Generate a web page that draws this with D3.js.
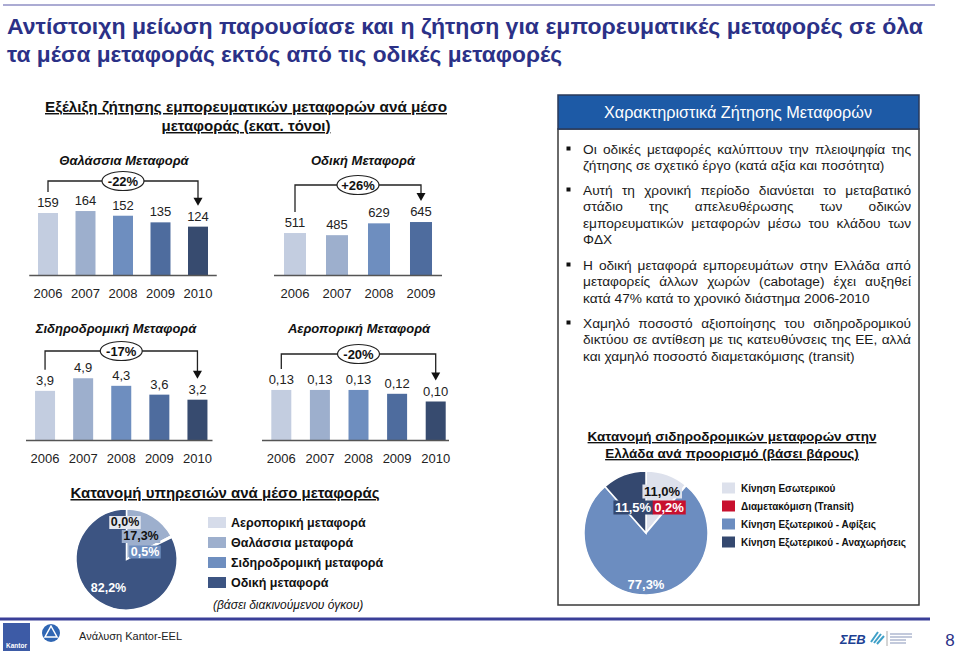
<!DOCTYPE html>
<html><head><meta charset="utf-8">
<script src="https://cdn.jsdelivr.net/npm/d3@7"></script>
<style>
html,body{margin:0;padding:0;background:#fff;}
svg{display:block;font-family:"Liberation Sans",Arial,sans-serif;}
</style></head>
<body><svg id="c" width="959" height="654"></svg>
<script>
// ---------- DATA ----------
const years5 = ["2006","2007","2008","2009","2010"];
const years4 = ["2006","2007","2008","2009"];
const seaValues = [159,164,152,135,124];
const roadValues = [511,485,629,645];
const railValues = [3.9,4.9,4.3,3.6,3.2];
const airValues = [0.13,0.13,0.13,0.12,0.10];
const seaChange = "-22%", roadChange = "+26%", railChange = "-17%", airChange = "-20%";
const barColors = ["#c3cde0","#9dafcd","#6e8ebf","#4e6c9e","#374b6f"];

const serviceLabels = ["Αεροπορική μεταφορά","Θαλάσσια μεταφορά","Σιδηροδρομική μεταφορά","Οδική μεταφορά"];
const serviceShares = [0.0,17.3,0.5,82.2];
const serviceColors = ["#d6dcea","#9dafcd","#6e8ebf","#3c5482"];

const railDestLabels = ["Κίνηση Εσωτερικού","Διαμετακόμιση (Transit)","Κίνηση Εξωτερικού - Αφίξεις","Κίνηση Εξωτερικού - Αναχωρήσεις"];
const railDestShares = [11.0,0.2,77.3,11.5];
const railDestColors = ["#dde1ec","#c8102e","#6c8dc0","#34486f"];

const bullets = [
 ["Οι οδικές μεταφορές καλύπτουν την πλειοψηφία της","ζήτησης σε σχετικό έργο (κατά αξία και ποσότητα)"],
 ["Αυτή τη χρονική περίοδο διανύεται το μεταβατικό","στάδιο της απελευθέρωσης των οδικών","εμπορευματικών μεταφορών μέσω του κλάδου των","ΦΔΧ"],
 ["Η οδική μεταφορά εμπορευμάτων στην Ελλάδα από","μεταφορείς άλλων χωρών (cabotage) έχει αυξηθεί","κατά 47% κατά το χρονικό διάστημα 2006-2010"],
 ["Χαμηλό ποσοστό αξιοποίησης του σιδηροδρομικού","δικτύου σε αντίθεση με τις κατευθύνσεις της ΕΕ, αλλά","και χαμηλό ποσοστό διαμετακόμισης (transit)"]
];

// ---------- DRAW ----------
const svg = d3.select("#c");
const fmt = (v, d) => v.toFixed(d).replace(".", ",");

// top rule & title
svg.append("line").attr("x1",3).attr("x2",935).attr("y1",5).attr("y2",5).attr("stroke","#8f8fc4").attr("stroke-width",1.5);
const titleLines = ["Αντίστοιχη μείωση παρουσίασε και η ζήτηση για εμπορευματικές μεταφορές σε όλα","τα μέσα μεταφοράς εκτός από τις οδικές μεταφορές"];
const titleLens = [916, 555];
titleLines.forEach((t,i)=>{
  svg.append("text").attr("x",7).attr("y",34+28*i).text(t)
    .attr("font-family","'Liberation Sans Narrow','Arial Narrow','Liberation Sans',sans-serif")
    .attr("font-weight","bold").attr("font-size",21.5).attr("fill","#2b3187")
    .attr("textLength",titleLens[i]).attr("lengthAdjust","spacingAndGlyphs");
});

// subtitle
const subLens = [402, 169];
["Εξέλιξη ζήτησης εμπορευματικών μεταφορών ανά μέσο","μεταφοράς (εκατ. τόνοι)"].forEach((t,i)=>{
  svg.append("text").attr("x",246).attr("y",112+19*i).attr("text-anchor","middle")
   .attr("font-weight","bold").attr("font-size",14.5).attr("fill","#111")
   .attr("textLength",subLens[i]).attr("lengthAdjust","spacingAndGlyphs")
   .style("text-decoration","underline").text(t);
});

function barChart(cfg){
  const g = svg.append("g");
  const x = d3.scaleBand().domain(cfg.cats).range(cfg.xr).paddingInner(cfg.pi).paddingOuter(cfg.pi/2);
  const y = d3.scaleLinear().domain(cfg.dom).range([cfg.base, cfg.base - cfg.h]);
  g.append("text").attr("x",cfg.tx).attr("y",cfg.ty).attr("text-anchor","middle")
    .attr("font-weight","bold").attr("font-style","italic").attr("font-size",13).attr("fill","#111").text(cfg.title);
  g.selectAll("rect.b").data(cfg.vals).join("rect").attr("class","b")
    .attr("x",(d,i)=>x(cfg.cats[i])).attr("width",x.bandwidth())
    .attr("y",d=>y(d)).attr("height",d=>cfg.base-y(d))
    .attr("fill",(d,i)=>barColors[i]);
  g.append("line").attr("x1",cfg.xr[0]).attr("x2",cfg.xr[1]-cfg.trim).attr("y1",cfg.base+0.5).attr("y2",cfg.base+0.5)
    .attr("stroke","#555").attr("stroke-width",1.5);
  g.selectAll("text.v").data(cfg.vals).join("text").attr("class","v")
    .attr("x",(d,i)=>x(cfg.cats[i])+x.bandwidth()/2).attr("y",d=>y(d)-6)
    .attr("text-anchor","middle").attr("font-size",13).attr("fill","#222")
    .text(d=>cfg.dec==null?d:fmt(d,cfg.dec));
  g.selectAll("text.yr").data(cfg.cats).join("text").attr("class","yr")
    .attr("x",d=>x(d)+x.bandwidth()/2).attr("y",cfg.base+23)
    .attr("text-anchor","middle").attr("font-size",13).attr("fill","#222").text(d=>d);
  // bracket
  const n = cfg.vals.length;
  const xl = x(cfg.cats[0])+x.bandwidth()/2, xrr = x(cfg.cats[n-1])+x.bandwidth()/2;
  const yl = y(cfg.vals[0]) - 21, yt = y(cfg.vals[n-1]) - 21;
  g.append("path").attr("d",`M${xl},${yl}V${cfg.by}H${xrr}V${yt-7}`).attr("fill","none").attr("stroke","#222").attr("stroke-width",1.3);
  g.append("path").attr("d",`M${xrr-4.5},${yt-8}L${xrr+4.5},${yt-8}L${xrr},${yt}Z`).attr("fill","#111");
  const ex = (xl+xrr)/2 + cfg.eoff;
  g.append("ellipse").attr("cx",ex).attr("cy",cfg.by).attr("rx",21).attr("ry",9.5).attr("fill","#fff").attr("stroke","#222").attr("stroke-width",1.2);
  g.append("text").attr("x",ex).attr("y",cfg.by+4.5).attr("text-anchor","middle").attr("font-weight","bold").attr("font-size",13).attr("fill","#111").text(cfg.change);
}

barChart({cats:years5, vals:seaValues, xr:[29.25,216.75], pi:0.467, dom:[0,200], h:78, base:275, trim:0,
  title:"Θαλάσσια Μεταφορά", tx:124, ty:165, by:181, change:seaChange, eoff:0});
barChart({cats:years4, vals:roadValues, xr:[274,442], pi:0.476, dom:[0,800], h:65.7, base:275, trim:0,
  title:"Οδική Μεταφορά", tx:363, ty:165, by:185, change:roadChange, eoff:0});
barChart({cats:years5, vals:railValues, xr:[26,216.5], pi:0.475, dom:[0,5], h:63, base:440, trim:4, dec:1,
  title:"Σιδηροδρομική Μεταφορά", tx:116, ty:333, by:351, change:railChange, eoff:0});
barChart({cats:years5, vals:airValues, xr:[262,455], pi:0.482, dom:[0,0.2], h:77, base:440, trim:6, dec:2,
  title:"Αεροπορική Μεταφορά", tx:359, ty:333, by:354, change:airChange, eoff:0});

// ---------- pies ----------
function pie(cfg){
  const g = svg.append("g").attr("transform",`translate(${cfg.cx},${cfg.cy})`);
  const arcs = d3.pie().sort(null).value(d=>d)(cfg.vals);
  const arc = d3.arc().innerRadius(0).outerRadius(cfg.r);
  g.selectAll("path").data(arcs).join("path").attr("d",arc)
    .attr("fill",(d,i)=>cfg.colors[i]).attr("stroke","#fff").attr("stroke-width",1.5);
  cfg.labels.forEach(L=>{
    const i = L.i;
    const t = g.append("text").attr("x",L.x).attr("y",L.y).attr("text-anchor","middle")
      .attr("font-weight","bold").attr("font-size",cfg.fs).attr("fill",L.c).text(fmt(cfg.vals[i],1)+"%");
    if(L.box){
      const bb = t.node().getBBox();
      g.insert("rect","text").attr("x",bb.x-1.5).attr("y",bb.y+1).attr("width",bb.width+3).attr("height",bb.height-1)
        .attr("fill",L.box);
    }
  });
}

svg.append("text").attr("x",225).attr("y",498).attr("text-anchor","middle").attr("font-weight","bold").attr("font-size",15)
  .attr("fill","#111").style("text-decoration","underline").text("Κατανομή υπηρεσιών ανά μέσο μεταφοράς");
pie({cx:126.5, cy:559.5, r:50.5, vals:serviceShares, colors:serviceColors, fs:12.5, labels:[
  {i:0,x:-1.5,y:-33.5,c:"#111",box:"#e2e6ef"},
  {i:1,x:14.5,y:-19.5,c:"#111",box:serviceColors[1]},
  {i:2,x:18.5,y:-4,c:"#fff",box:serviceColors[2]},
  {i:3,x:-18,y:32.5,c:"#fff"}
]});

// legend 1
const lg1 = svg.append("g");
serviceLabels.forEach((s,i)=>{
  lg1.append("rect").attr("x",208).attr("y",517+20*i).attr("width",18).attr("height",11).attr("fill",serviceColors[i]);
  lg1.append("text").attr("x",231).attr("y",527+20*i).attr("font-weight","bold").attr("font-size",12.5).attr("fill","#111").text(s);
});
lg1.append("text").attr("x",213).attr("y",609).attr("font-style","italic").attr("font-size",12).attr("fill","#111").text("(βάσει διακινούμενου όγκου)");

// right panel
svg.append("rect").attr("x",558).attr("y",129).attr("width",361).attr("height",476).attr("fill","none").attr("stroke","#3a3a3a").attr("stroke-width",1.5);
svg.append("rect").attr("x",558).attr("y",95).attr("width",361).attr("height",34).attr("fill","#1d5aa6").attr("stroke","#2a3a5a").attr("stroke-width",1.5);
svg.append("text").attr("x",738).attr("y",118).attr("text-anchor","middle").attr("font-size",16.2).attr("fill","#fff").text("Χαρακτηριστικά Ζήτησης Μεταφορών");

const bStarts = [154,195,270,328], lh = 16.4, tx0 = 583, tw = 328, bfs = 13.7;
bullets.forEach((para,p)=>{
  svg.append("rect").attr("x",566.5).attr("y",bStarts[p]-7.5).attr("width",4).attr("height",4).attr("fill","#111");
  para.forEach((line,li)=>{
    const yy = bStarts[p] + li*lh;
    const last = li===para.length-1;
    if(last){
      svg.append("text").attr("x",tx0).attr("y",yy).attr("font-size",bfs).attr("fill","#1a1a1a").text(line);
    } else {
      const words = line.split(" ");
      const ts = words.map(w=>svg.append("text").attr("y",yy).attr("font-size",bfs).attr("fill","#1a1a1a").text(w));
      const ws = ts.map(t=>t.node().getComputedTextLength());
      const gap = (tw - d3.sum(ws))/(words.length-1);
      let cx = tx0;
      ts.forEach((t,k)=>{ t.attr("x",cx); cx += ws[k]+gap; });
    }
  });
});

// pie 2
["Κατανομή σιδηροδρομικών μεταφορών στην","Ελλάδα ανά προορισμό (βάσει βάρους)"].forEach((t,i)=>{
  svg.append("text").attr("x",732).attr("y",441+17*i).attr("text-anchor","middle").attr("font-weight","bold").attr("font-size",13.5)
   .attr("fill","#111").style("text-decoration","underline").text(t);
});
pie({cx:646, cy:533, r:62, vals:railDestShares, colors:railDestColors, fs:13, labels:[
  {i:0,x:16,y:-37.5,c:"#111",box:railDestColors[0]},
  {i:3,x:-13,y:-21.5,c:"#fff",box:railDestColors[3]},
  {i:1,x:23,y:-21.5,c:"#fff",box:railDestColors[1]},
  {i:2,x:0,y:55.5,c:"#fff"}
]});
const lg2 = svg.append("g");
railDestLabels.forEach((s,i)=>{
  lg2.append("rect").attr("x",722).attr("y",482.5+18*i).attr("width",13).attr("height",11).attr("fill",railDestColors[i]);
  lg2.append("text").attr("x",741).attr("y",492+18*i).attr("font-weight","bold").attr("font-size",10).attr("fill","#111").text(s);
});

// footer
svg.append("line").attr("x1",0).attr("x2",930).attr("y1",619).attr("y2",619).attr("stroke","#3a3f98").attr("stroke-width",3);
svg.append("rect").attr("x",3).attr("y",623).attr("width",27).attr("height",28).attr("fill","#3d5ba6");
svg.append("text").attr("x",16.5).attr("y",648).attr("text-anchor","middle").attr("font-size",6.5).attr("font-weight","bold").attr("fill","#fff").text("Kantor");
svg.append("circle").attr("cx",51).attr("cy",633).attr("r",9).attr("fill","#2f66b3");
svg.append("path").attr("d","M51,626L57,637L45,637Z").attr("fill","none").attr("stroke","#fff").attr("stroke-width",1.5);
svg.append("text").attr("x",79).attr("y",640).attr("font-size",11).attr("fill","#222").text("Ανάλυση Kantor-EEL");
svg.append("text").attr("x",840).attr("y",644).attr("font-size",13).attr("font-weight","bold").attr("font-style","italic").attr("fill","#1c3f93").text("ΣΕΒ");
svg.append("path").attr("d","M871,642L878,632M874,643L881,634M877,644L884,636").attr("stroke","#3fa0c8").attr("stroke-width",2);
svg.append("line").attr("x1",887).attr("x2",887).attr("y1",631).attr("y2",646).attr("stroke","#aaa");
[634,637,640,643].forEach((yy,i)=>svg.append("line").attr("x1",890).attr("x2",i<2?912:906).attr("y1",yy).attr("y2",yy).attr("stroke","#9aa6c4").attr("stroke-width",1.2));
svg.append("text").attr("x",950).attr("y",646).attr("text-anchor","middle").attr("font-size",17).attr("fill","#2b3187").text("8");
</script></body></html>
